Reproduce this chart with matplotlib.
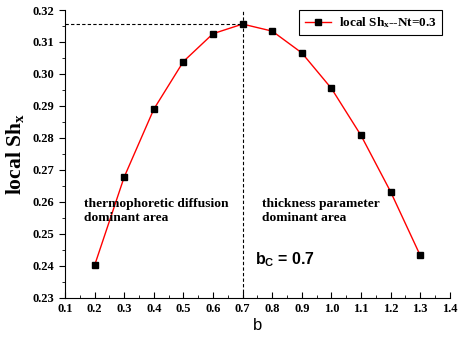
import matplotlib
matplotlib.use("Agg")
import matplotlib.pyplot as plt
import numpy as np
from matplotlib.ticker import MultipleLocator

b = [0.2, 0.3, 0.4, 0.5, 0.6, 0.7, 0.8, 0.9, 1.0, 1.1, 1.2, 1.3]
sh = [0.2402, 0.2678, 0.2890, 0.3039, 0.3126, 0.3156, 0.3134, 0.3066, 0.2955, 0.2808, 0.2632, 0.2433]
b_c = 0.7
sh_max = 0.3156

plt.rcParams['font.family'] = ['Liberation Serif', 'DejaVu Serif']
plt.rcParams['mathtext.fontset'] = 'custom'
plt.rcParams['mathtext.rm'] = 'Liberation Serif:bold'
plt.rcParams['mathtext.it'] = 'Liberation Serif:bold'
plt.rcParams['mathtext.bf'] = 'Liberation Serif:bold'

fig = plt.figure(figsize=(4.59, 3.39), dpi=100)
ax = fig.add_axes([0.1416, 0.121, 0.8384, 0.8495])

ax.plot(b, sh, color='red', lw=1.0, marker='s', ms=5, mfc='black', mec='black',
        label=r'local Sh$_\mathregular{x}$--Nt=0.3')
ax.plot([0.1, b_c], [sh_max, sh_max], 'k--', lw=0.8, dashes=(3, 2))
ax.plot([b_c, b_c], [0.23, 0.32], 'k--', lw=0.8, dashes=(3, 2))

ax.set_xlim(0.1, 1.4)
ax.set_ylim(0.23, 0.32)
ax.xaxis.set_minor_locator(MultipleLocator(0.05))
ax.yaxis.set_minor_locator(MultipleLocator(0.005))
xt = np.arange(0.1, 1.41, 0.1)
yt = np.arange(0.23, 0.3201, 0.01)
ax.set_xticks(xt)
ax.set_xticklabels([f"{v:.1f}" for v in xt])
ax.set_yticks(yt)
ax.set_yticklabels([f"{v:.2f}" for v in yt])

ax.spines['top'].set_visible(False)
ax.spines['right'].set_visible(False)
ax.tick_params(axis='both', which='major', labelsize=9, width=0.8)
ax.tick_params(axis='y', which='major', direction='out', length=4)
ax.tick_params(axis='y', which='minor', direction='out', length=2)
ax.tick_params(axis='x', which='major', direction='in', length=4)
ax.tick_params(axis='x', which='minor', direction='in', length=2)
for lab in ax.get_xticklabels() + ax.get_yticklabels():
    lab.set_fontweight('bold')

ax.set_xlabel('b', family='Liberation Sans', fontsize=12, labelpad=2)
ax.set_ylabel(r'local Sh$_\mathregular{x}$', fontsize=15.5, fontweight='bold', labelpad=5)

ax.text(0.164, 0.2613, 'thermophoretic diffusion\ndominant area', fontsize=9.7,
        fontweight='bold', va='top', linespacing=1.25)
ax.text(0.766, 0.2613, 'thickness parameter\ndominant area', fontsize=9.7,
        fontweight='bold', va='top', linespacing=1.25)
ax.text(0.742, 0.2405, r'b$_\mathregular{C}$ = 0.7', fontsize=11.5, fontweight='bold',
        family='Liberation Sans', va='baseline')

leg = ax.legend(loc='upper right', bbox_to_anchor=(0.98, 1.0), borderaxespad=0,
                prop={'weight': 'bold', 'size': 9.5}, fancybox=False,
                edgecolor='black', framealpha=1, handlelength=2.0, borderpad=0.4,
                handletextpad=0.6)
leg.get_frame().set_linewidth(0.8)

fig.savefig('out.png', dpi=100)
